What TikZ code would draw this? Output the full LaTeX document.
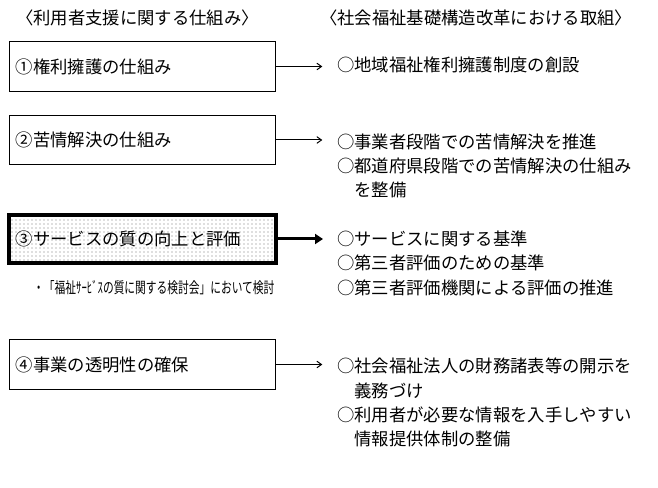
\documentclass[tikz,border=0pt]{standalone}
\usepackage{fontspec}
\usepackage{tikz}
\usetikzlibrary{
  arrows.meta,
  positioning,
  patterns
}
\newfontfamily\jpfont{Noto Sans CJK JP}

\begin{document}
\begin{tikzpicture}[
  x=0.75pt, y=-0.75pt,
  font=\jpfont\fontsize{13pt}{18pt}\selectfont,
  >={Straight Barb[length=3.5pt,width=5pt]},
  frame/.style={draw, line width=0.75pt, minimum width=200pt, minimum height=37pt,
    text width=190pt, inner xsep=5pt, align=left},
  item/.style={anchor=west, inner sep=0pt},
  note/.style={anchor=west, inner sep=0pt, font=\jpfont\fontsize{11.5pt}{13pt}\selectfont},
  link/.style={->, line width=0.75pt, shorten >=11pt},
]
  \useasboundingbox (0,0) rectangle (658,488);

  % Headings
  \node[item] (hl) at (16,18) {〈利用者支援に関する仕組み〉};
  \node[item] (hr) at (320,18) {〈社会福祉基礎構造改革における取組〉};

  % Left column
  \node[frame] (b1) at (142.5,66.5) {①権利擁護の仕組み};
  \node[frame] (b2) at (142.5,140) {②苦情解決の仕組み};
  \node[frame, line width=2.6pt, minimum height=36pt, pattern=dots, pattern color=black!55]
    (b3) at (142.5,239) {③サービスの質の向上と評価};
  \node[note] (n3) at (33,288) {\scalebox{0.70}[1]{・「福祉ｻｰﾋﾞｽの質に関する検討会」において検討}};
  \node[frame] (b4) at (142.5,364.5) {④事業の透明性の確保};

  % Right column
  \node[item] (r1) at (337,65) {○地域福祉権利擁護制度の創設};

  \node[item] (r2a) at (337,142) {○事業者段階での苦情解決を推進};
  \node[item] (r2b) at (337,166) {○都道府県段階での苦情解決の仕組み};
  \node[item] (r2c) at (337,190) {　を整備};

  \node[item] (r3a) at (337,239) {○サービスに関する基準};
  \node[item] (r3b) at (337,263) {○第三者評価のための基準};
  \node[item] (r3c) at (337,288) {○第三者評価機関による評価の推進};

  \node[item] (r4a) at (337,366) {○社会福祉法人の財務諸表等の開示を};
  \node[item] (r4b) at (337,391) {　義務づけ};
  \node[item] (r4c) at (337,415) {○利用者が必要な情報を入手しやすい};
  \node[item] (r4d) at (337,439) {　情報提供体制の整備};

  % Arrows
  \draw[link] (b1.east) -- (b1.east -| r1.west);
  \draw[link] (b2.east) -- (b2.east -| r2a.west);
  \draw[-{Triangle[length=6pt,width=7.5pt]}, line width=2.25pt, shorten >=10.5pt]
    (b3.east) -- (b3.east -| r3a.west);
  \draw[link] (b4.east) -- (b4.east -| r4a.west);
\end{tikzpicture}
\end{document}
